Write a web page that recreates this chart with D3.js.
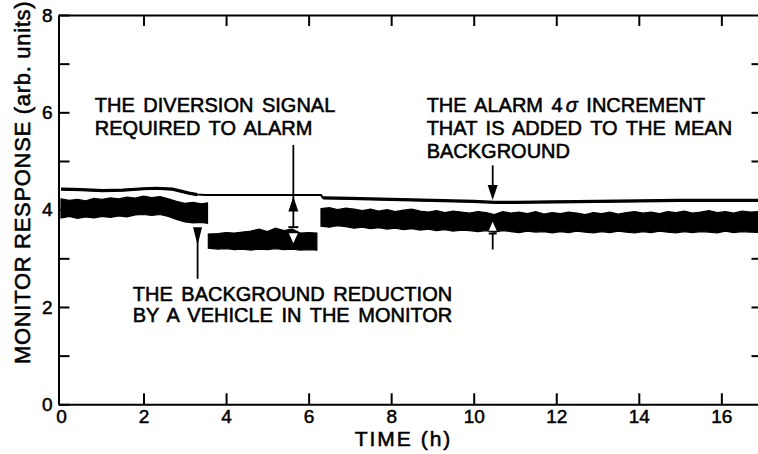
<!DOCTYPE html>
<html lang="en">
<head>
<meta charset="UTF-8">
<title>Monitor response vs time</title>
<script src="https://cdn.jsdelivr.net/npm/d3@7"></script>
<style>
  body { margin: 0; background: #fff; }
  svg { display: block; font-family: "Liberation Sans", Arial, sans-serif; }
  .axis path, .axis line { stroke: #000; stroke-width: 2px; }
  .axis text { font-size: 19px; fill: #000; stroke: #000; stroke-width: 0.5px; font-family: "Liberation Sans", Arial, sans-serif; }
  .note { font-size: 20px; fill: #000; stroke: #000; stroke-width: 0.55px; word-spacing: 3px; }
  .title { font-size: 21px; fill: #000; stroke: #000; stroke-width: 0.55px; }
</style>
</head>
<body>
<svg id="chart" width="758" height="454"></svg>
<script>
// tick values
const xTickVals = [0, 2, 4, 6, 8, 10, 12, 14, 16];
const yTickVals = [0, 1, 2, 3, 4, 5, 6, 7, 8];
const rightTickVals = [1, 2, 3, 5, 6, 7];

// alarm level (mean background + 4 sigma)
const alarmHours = [0, 0.5, 1.0, 1.5, 2.0, 2.3, 2.7, 2.9, 3.1, 3.3, 3.5, 6.3, 6.35, 7, 8, 9, 10, 10.5, 11, 12, 13, 14, 15, 16, 16.9];
const alarmLevel = [4.42, 4.41, 4.39, 4.40, 4.43, 4.44, 4.42, 4.38, 4.34, 4.31, 4.30, 4.30, 4.24, 4.23, 4.21, 4.19, 4.17, 4.15, 4.15, 4.16, 4.17, 4.18, 4.19, 4.19, 4.19];

// background signal envelope, before the vehicle
const bgHours1 = [0, 0.2, 0.4, 0.6, 0.8, 1.0, 1.2, 1.4, 1.6, 1.8, 2.0, 2.2, 2.4, 2.6, 2.8, 3.0, 3.2, 3.4, 3.55];
const bgTop1 = [4.22, 4.19, 4.21, 4.18, 4.23, 4.21, 4.24, 4.22, 4.26, 4.24, 4.28, 4.25, 4.27, 4.22, 4.17, 4.13, 4.15, 4.12, 4.14];
const bgLow1 = [3.83, 3.86, 3.82, 3.85, 3.83, 3.86, 3.84, 3.87, 3.85, 3.89, 3.90, 3.88, 3.90, 3.86, 3.80, 3.75, 3.73, 3.74, 3.72];

// vehicle in the monitor
const bgHours2 = [3.57, 3.8, 4.0, 4.2, 4.4, 4.6, 4.8, 5.0, 5.2, 5.4, 5.6, 5.8, 6.0, 6.2];
const bgTop2 = [3.50, 3.51, 3.53, 3.52, 3.54, 3.56, 3.60, 3.55, 3.62, 3.57, 3.60, 3.52, 3.53, 3.52];
const bgLow2 = [3.21, 3.19, 3.20, 3.18, 3.19, 3.17, 3.19, 3.18, 3.20, 3.18, 3.19, 3.17, 3.18, 3.17];

// after the vehicle left
const bgHours3 = [6.3, 6.5, 6.7, 6.9, 7.1, 7.3, 7.5, 7.7, 7.9, 8.1, 8.3, 8.5, 8.7, 8.9, 9.1, 9.3, 9.5, 9.7, 9.9, 10.1, 10.3, 10.5, 10.7, 10.9, 11.1, 11.3, 11.5, 11.7, 11.9, 12.1, 12.3, 12.5, 12.7, 12.9, 13.1, 13.3, 13.5, 13.7, 13.9, 14.1, 14.3, 14.5, 14.7, 14.9, 15.1, 15.3, 15.5, 15.7, 15.9, 16.1, 16.3, 16.5, 16.7, 16.9];
const bgTop3 = [4.02, 4.04, 4.00, 4.03, 4.01, 3.98, 4.01, 3.97, 4.00, 3.96, 3.99, 4.01, 3.97, 3.95, 3.98, 3.94, 3.97, 3.95, 3.93, 3.96, 3.94, 3.90, 3.96, 3.93, 3.95, 3.92, 3.96, 3.91, 3.94, 3.92, 3.95, 3.93, 3.90, 3.94, 3.92, 3.95, 3.91, 3.94, 3.96, 3.93, 3.95, 3.92, 3.96, 3.94, 3.97, 3.93, 3.95, 3.98, 3.94, 3.96, 3.93, 3.97, 3.95, 3.96];
const bgLow3 = [3.66, 3.64, 3.67, 3.65, 3.62, 3.64, 3.61, 3.63, 3.60, 3.62, 3.59, 3.61, 3.58, 3.60, 3.57, 3.59, 3.56, 3.58, 3.57, 3.55, 3.57, 3.54, 3.57, 3.55, 3.53, 3.56, 3.54, 3.55, 3.52, 3.55, 3.53, 3.56, 3.54, 3.52, 3.55, 3.53, 3.56, 3.54, 3.52, 3.55, 3.53, 3.56, 3.54, 3.52, 3.55, 3.53, 3.55, 3.54, 3.52, 3.56, 3.53, 3.55, 3.54, 3.53];

// annotation text
const diversionText = ["THE DIVERSION SIGNAL", "REQUIRED TO ALARM"];
const alarmText = ["THE ALARM 4σ INCREMENT", "THAT IS ADDED TO THE MEAN", "BACKGROUND"];
const reductionText = ["THE BACKGROUND REDUCTION", "BY A VEHICLE IN THE MONITOR"];

const svg = d3.select('#chart');

const x = d3.scaleLinear().domain([-0.06, 16.9]).range([58.5, 758.5]);
const y = d3.scaleLinear().domain([0, 8]).range([404.3, 15]);

// axes
svg.append('g').attr('class', 'axis')
  .attr('transform', `translate(0,${y(0)})`)
  .call(d3.axisBottom(x).tickValues(xTickVals).tickSize(-11).tickSizeOuter(0).tickPadding(5))
  .call(g => g.selectAll('.tick').filter(d => d === 0).select('line').remove());

svg.append('g').attr('class', 'axis')
  .attr('transform', `translate(0,${y(8)})`)
  .call(d3.axisTop(x).tickValues(xTickVals.filter(d => d > 0)).tickSize(-11).tickSizeOuter(0).tickFormat(''));

svg.append('g').attr('class', 'axis')
  .attr('transform', `translate(${x(-0.06)},0)`)
  .call(d3.axisLeft(y).tickValues(yTickVals).tickSize(-11).tickSizeOuter(0).tickPadding(6)
    .tickFormat(d => d % 2 === 0 ? d : ''));

svg.append('g').attr('class', 'axis')
  .attr('transform', `translate(${x(16.9)},0)`)
  .call(d3.axisRight(y).tickValues(rightTickVals).tickSize(-7).tickSizeOuter(0).tickFormat(''));

// axis titles
svg.append('text').attr('class', 'title')
  .attr('x', x(8.3)).attr('y', 446)
  .attr('text-anchor', 'middle')
  .style('letter-spacing', '2px')
  .text('TIME (h)');

svg.append('text').attr('class', 'title')
  .attr('transform', `translate(30,${y(4.56)}) rotate(-90)`)
  .attr('text-anchor', 'middle')
  .style('font-size', '22px')
  .style('letter-spacing', '0.7px')
  .text('MONITOR RESPONSE (arb. units)');

// noisy background band
const band = d3.area()
  .x(d => x(d.h))
  .y0(d => y(d.lo))
  .y1(d => y(d.hi));

[[bgHours1, bgTop1, bgLow1], [bgHours2, bgTop2, bgLow2], [bgHours3, bgTop3, bgLow3]].forEach(([hs, tops, lows]) => {
  const pts = hs.map((h, i) => ({ h: h, hi: tops[i], lo: lows[i] }));
  svg.append('path').datum(pts)
    .attr('d', band)
    .attr('fill', '#000')
    .attr('stroke', '#000')
    .attr('stroke-width', 1.2);
});

// alarm level line
const alarmPts = alarmHours.map((h, i) => ({ h: h, v: alarmLevel[i] }));
const alarmLine = d3.line().x(d => x(d.h)).y(d => y(d.v));
svg.append('path').datum(alarmPts)
  .attr('d', alarmLine)
  .attr('fill', 'none').attr('stroke', '#000').attr('stroke-width', 2);
svg.append('path').datum(alarmPts)
  .attr('d', alarmLine.defined(d => d.h <= 3.3 || d.h >= 6.35))
  .attr('fill', 'none').attr('stroke', '#000').attr('stroke-width', 3.2);

// helpers for arrows
function vline(h, v0, v1, w) {
  svg.append('line')
    .attr('x1', x(h)).attr('x2', x(h))
    .attr('y1', y(v0)).attr('y2', y(v1))
    .attr('stroke', '#000').attr('stroke-width', w || 1.8);
}
function head(h, v, dir, len, half, fill) {
  // dir = 1 points down, -1 points up; tip at (h, v)
  const tx = x(h), ty = y(v);
  svg.append('path')
    .attr('d', `M${tx},${ty} L${tx - half},${ty - dir * len} L${tx + half},${ty - dir * len} Z`)
    .attr('fill', fill || '#000');
}
function tbar(h, v, half) {
  svg.append('line')
    .attr('x1', x(h) - half).attr('x2', x(h) + half)
    .attr('y1', y(v)).attr('y2', y(v))
    .attr('stroke', '#000').attr('stroke-width', 2);
}

// diversion signal arrow
vline(5.63, 5.33, 3.64);
head(5.63, 4.27, -1, 15, 5);
tbar(5.63, 3.64, 5);
head(5.63, 3.31, 1, 10, 4.5, '#fff');

// background reduction arrow
vline(3.31, 3.5, 2.58);
head(3.31, 3.27, 1, 18, 4.5);

// alarm increment arrow
vline(10.46, 4.91, 4.3);
head(10.46, 4.20, 1, 15, 5);
head(10.46, 3.75, -1, 9, 4, '#fff');
tbar(10.46, 3.51, 4);
vline(10.46, 3.51, 3.18);

// annotation text
function note(lines, h, vs) {
  lines.forEach((t, i) => {
    const txt = svg.append('text').attr('class', 'note')
      .attr('x', x(h)).attr('y', y(vs[i]));
    const k = t.indexOf('σ');
    if (k >= 0) {
      txt.append('tspan').text(t.slice(0, k));
      txt.append('tspan').style('font-style', 'italic').attr('dx', 3).text('σ');
      txt.append('tspan').text(t.slice(k + 1));
    } else {
      txt.text(t);
    }
  });
}
note(diversionText, 0.82, [6.01, 5.53]);
note(alarmText, 8.86, [6.01, 5.53, 5.06]);
note(reductionText, 1.74, [2.12, 1.69]);
</script>
</body>
</html>
